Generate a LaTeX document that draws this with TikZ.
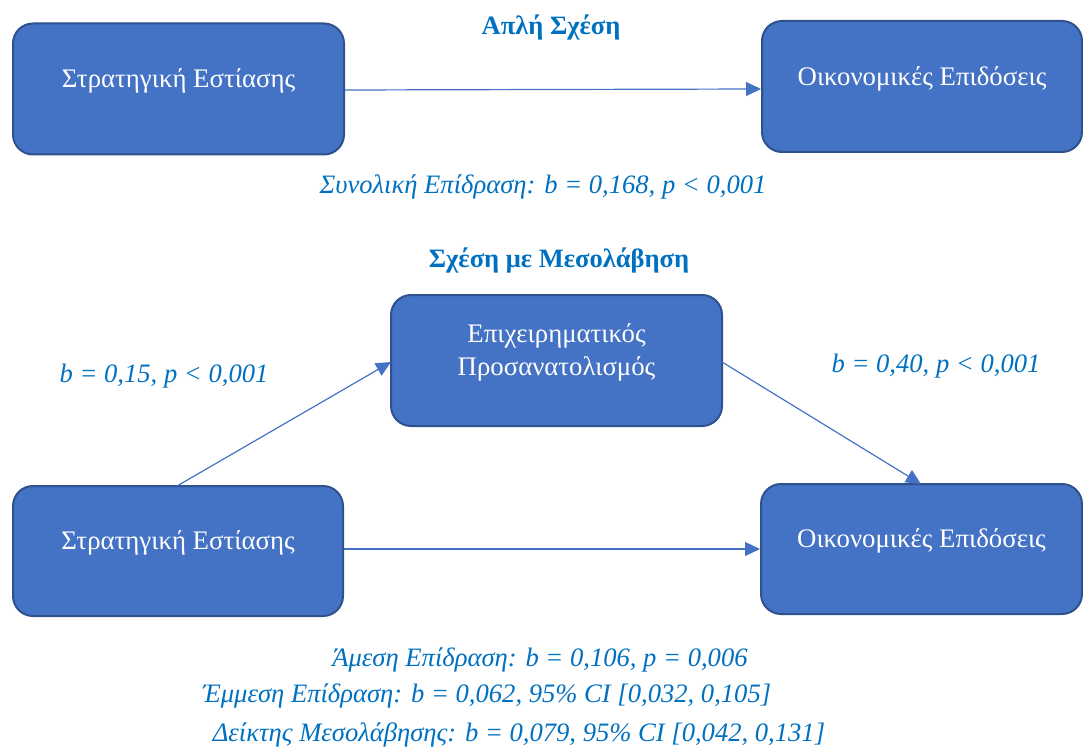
\documentclass[tikz,border=0pt]{standalone}
\usepackage{fontspec}
\setmainfont{Liberation Serif}
\usetikzlibrary{arrows.meta}
\definecolor{boxfill}{HTML}{4472C4}
\definecolor{boxline}{HTML}{2F528F}
\definecolor{labelblue}{HTML}{0070C0}
\newcommand{\liftup}[1]{\raisebox{8pt}[\height][\depth]{#1}}
\begin{document}
\begin{tikzpicture}[x=1pt,y=-1pt,
  varbox/.style={draw=boxline, line width=2pt, fill=boxfill, rounded corners=20pt,
    text=white, font=\fontsize{26.8}{33}\selectfont, align=center, inner sep=0pt},
  link/.style={draw=boxfill, line width=1.2pt, -{Triangle[length=15pt,width=14pt]}},
  heading/.style={text=labelblue, font=\fontsize{26.5}{30}\selectfont\bfseries},
  stat/.style={text=labelblue, font=\fontsize{26.6}{30}\selectfont\itshape}]
\useasboundingbox (0,0) rectangle (1083,751);

% simple relation
\node[heading] (h1) at (551,27) {Απλή Σχέση};
\node[varbox, minimum width=331pt, minimum height=131pt] (sf1) at (178.5,89) {\liftup{Στρατηγική Εστίασης}};
\node[varbox, minimum width=320pt, minimum height=131pt] (op1) at (922,86.5) {\liftup{Οικονομικές Επιδόσεις}};
\draw[link] (sf1.east) ++(0,1) -- (op1.west |- 0,89);
\node[stat] (tot) at (543,187) {Συνολική Επίδραση: b = 0,168, p < 0,001};

% mediation model
\node[heading] (h2) at (559,260) {Σχέση με Μεσολάβηση};
\node[varbox, minimum width=331pt, minimum height=131pt] (med) at (556.5,360.5) {\liftup{\begin{tabular}{@{}c@{}}Επιχειρηματικός\\Προσανατολισμός\end{tabular}}};
\node[varbox, minimum width=330pt, minimum height=130pt] (sf2) at (178,551) {\liftup{Στρατηγική Εστίασης}};
\node[varbox, minimum width=321pt, minimum height=130pt] (op2) at (921.5,549) {\liftup{Οικονομικές Επιδόσεις}};

\coordinate (a0) at (177,486);
\coordinate (a1) at (391,362);
\coordinate (c0) at (722,362);
\coordinate (c1) at (921,484);
\draw[link] (a0) -- (a1);
\draw[link] (c0) -- (c1);
\draw[link] (sf2.east |- 0,549) -- (op2.west |- 0,549);

\node[stat] (pa) at (164,376) {b = 0,15, p < 0,001};
\node[stat] (pb) at (936,366) {b = 0,40, p < 0,001};

\node[stat] (dir) at (540,660) {Άμεση Επίδραση: b = 0,106, p = 0,006};
\node[stat] (ind) at (487,696) {Έμμεση Επίδραση: b = 0,062, 95\% CI [0,032, 0,105]};
\node[stat] (idx) at (519,735) {Δείκτης Μεσολάβησης: b = 0,079, 95\% CI [0,042, 0,131]};
\end{tikzpicture}
\end{document}
